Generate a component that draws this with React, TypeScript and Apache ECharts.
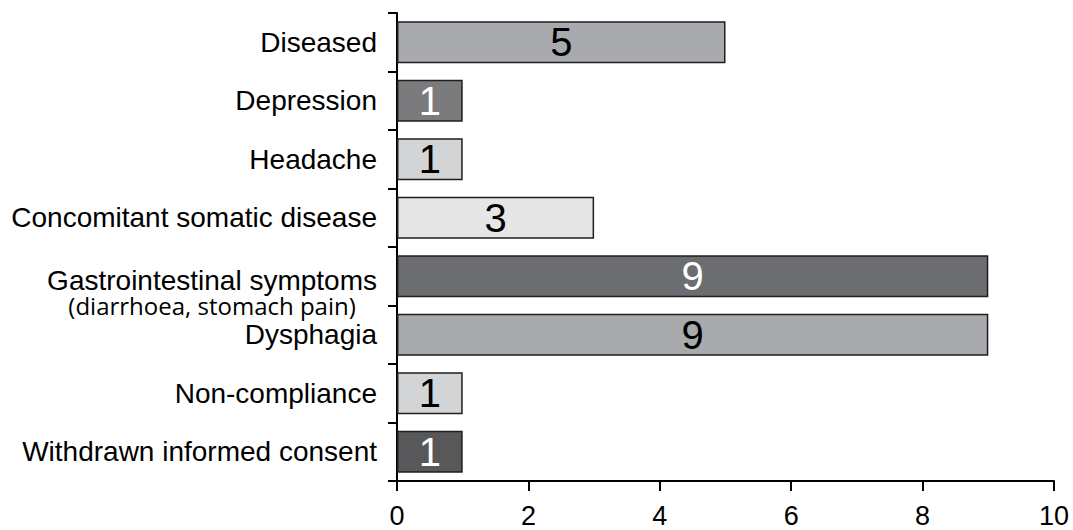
import React, { useEffect, useRef } from "react";
import * as echarts from "echarts";

const categories = [
  "Diseased",
  "Depression",
  "Headache",
  "Concomitant somatic disease",
  "Gastrointestinal symptoms",
  "Dysphagia",
  "Non-compliance",
  "Withdrawn informed consent",
];
const values = [5, 1, 1, 3, 9, 9, 1, 1];
const barColors = ["#a9aaad", "#7b7b7e", "#d3d4d6", "#e6e6e7", "#6c6d70", "#a9aaad", "#d3d4d6", "#58585a"];
const labelColors = ["#000", "#fff", "#000", "#000", "#fff", "#000", "#000", "#fff"];
const xTicks = [0, 2, 4, 6, 8, 10];
const subtitle = "(diarrhoea, stomach pain)";

const SANS = "'Liberation Sans', Arial, Helvetica, sans-serif";
const SUB = "'Open Sans', 'Noto Sans', sans-serif";

export default function App() {
  const ref = useRef<HTMLDivElement>(null);
  useEffect(() => {
    const chart = echarts.init(ref.current!, null, { renderer: "svg" });
    chart.setOption({
      animation: false,
      grid: { left: 397, right: 19, top: 13, bottom: 49, containLabel: false },
      xAxis: {
        type: "value",
        min: xTicks[0],
        max: xTicks[xTicks.length - 1],
        interval: 2,
        splitLine: { show: false },
        axisLine: { show: true, lineStyle: { color: "#000", width: 2 } },
        axisTick: { show: true, length: 10, lineStyle: { color: "#000", width: 2 } },
        axisLabel: {
          color: "#000",
          fontSize: 27,
          fontFamily: SANS,
          margin: 21,
        },
      },
      yAxis: {
        type: "category",
        inverse: true,
        data: categories,
        axisLine: { show: true, lineStyle: { color: "#000", width: 2 } },
        axisTick: { show: true, length: 9, lineStyle: { color: "#000", width: 2 } },
        axisLabel: {
          color: "#000",
          fontSize: 28,
          fontFamily: SANS,
          margin: 20,
          formatter: (v: string) =>
            v === "Gastrointestinal symptoms"
              ? `{s| }\n{a|${v}}\n{b|${subtitle}}`
              : v,
          rich: {
            s: { fontSize: 10, lineHeight: 33 },
            a: { fontSize: 28, lineHeight: 25, fontFamily: SANS, color: "#000" },
            b: { fontSize: 24, lineHeight: 24, fontFamily: SUB, color: "#000", align: "center" },
          },
        },
      },
      series: [
        {
          type: "bar",
          barWidth: "72%",
          data: values.map((v, i) => ({
            value: v,
            itemStyle: { color: barColors[i], borderColor: "#1e1e1e", borderWidth: 1.5 },
            label: { color: labelColors[i] },
          })),
          label: {
            show: true,
            position: "inside",
            fontSize: 40,
            fontFamily: SANS,
          },
        },
      ],
    });
    return () => chart.dispose();
  }, []);
  return <div ref={ref} style={{ width: 1073, height: 530, position: "absolute", left: 0, top: 0 }} />;
}
